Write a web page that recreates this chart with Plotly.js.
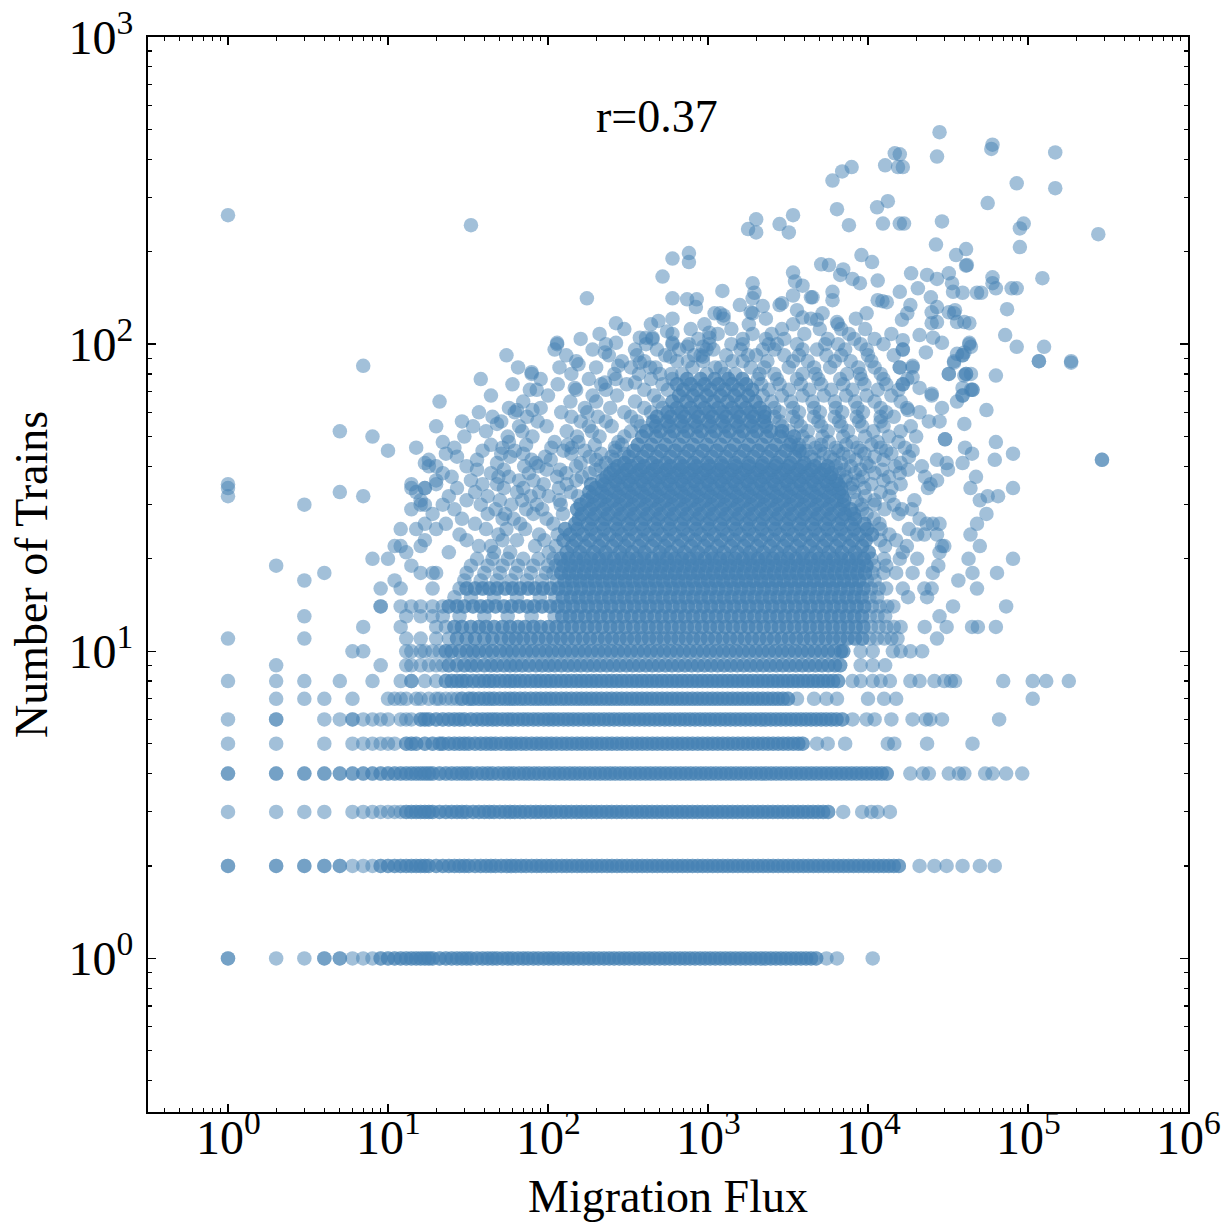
<!DOCTYPE html>
<html><head><meta charset="utf-8">
<script src="https://cdn.plot.ly/plotly-3.0.1.min.js"></script>
<style>html,body{margin:0;padding:0;background:#fff}</style>
</head><body><div id="chart" style="width:1231px;height:1226px"></div>
<script>
// ---- Data ----
// Each row: [Number of Trains, single Migration Flux values, densely stacked Migration Flux values]
// Values in the "dense" list each stand for denseMultiplicity coincident observations.
const denseMultiplicity = 2;
const rows1to8 = [
 [1,[1,1,2,3,4,4,5,5,6,7,8,5500,6400,10700],
  [9,10,11,12,13,14,15,16,17,18,19,21,23,25,27,29,31,33,36,39,42,45,48,52,56,60,65,70,75,81,87,94,101,108,116,125,134,144,155,167,180,193,208,224,241,259,279,300,322,347,373,401,431,464,499,537,577,621,668,718,772,830,893,960,1032,1110,1194,1284,1380,1484,1596,1716,1845,1984,2134,2295,2467,2653,2852,3067,3298,3546,3813,4100,4408,4740]],
 [2,[6,7,8,21000,26000,31000,39000,50000,62000],
  [1,2,3,4,5,9,10,11,12,13,14,15,16,17,18,20,22,24,26,28,30,32,35,38,41,44,47,51,55,59,63,68,73,79,85,91,98,105,113,122,131,141,152,163,175,188,202,217,234,251,270,290,312,336,361,388,417,449,482,519,558,600,645,693,745,801,862,926,996,1071,1151,1238,1331,1431,1538,1654,1778,1911,2055,2209,2375,2553,2745,2951,3172,3410,3666,3941,4237,4555,4896,5264,5659,6083,6540,7030,7558,8125,8734,9390,10094,10851,11665,12541,13481,14493,15580]],
 [3,[1,2,3,4,6,7,8,9,10,11,12,7000,9200,10500,11500,13700],
  [13,14,15,16,17,18,19,21,23,25,27,29,31,34,37,40,43,46,50,54,58,62,67,72,78,84,90,97,104,112,121,130,140,151,162,174,187,201,216,233,250,269,289,311,335,360,387,416,447,481,517,556,598,643,691,743,799,859,923,993,1067,1147,1233,1326,1425,1532,1647,1771,1904,2047,2200,2365,2543,2733,2938,3159,3396,3650,3924,4219,4535,4875,5241,5634]],
 [4,[18400,22000,24000,32000,37000,40000,54000,60000,73000,92000],
  [1,2,3,4,5,6,7,8,9,10,11,12,13,14,15,16,17,18,19,21,23,25,27,29,31,33,36,39,42,45,49,53,57,61,66,71,76,82,88,95,102,110,118,127,137,147,158,170,183,197,212,228,245,263,283,304,327,352,378,407,437,470,505,543,584,628,675,726,780,839,902,969,1042,1120,1204,1295,1392,1496,1608,1729,1858,1998,2148,2309,2482,2668,2868,3083,3315,3563,3830,4118,4426,4758,5115,5499,5911,6355,6831,7344,7894,8486,9123,9807,10543,11333,12183,13097]],
 [5,[1,2,4,6,7,8,9,10,11,4800,5600,7200,13300,14600,23400,45000],
  [13,14,15,17,19,21,22,24,26,28,30,32,35,38,41,44,47,51,55,59,63,68,73,79,85,91,98,105,113,122,131,141,152,163,175,188,202,217,234,251,270,290,312,336,361,388,417,449,482,519,558,600,645,693,745,801,862,926,996,1071,1151,1238,1331,1431,1538,1654,1778,1911,2055,2209,2375,2553,2745,2951,3172,3410,3666,3900]],
 [6,[1,4,5,7,8,9,10,12,13,14,8000,9800,11000,14000,19000,23000,24500,29000,66000],
  [2,6,16,17,18,20,22,24,26,28,30,33,36,39,42,45,48,52,56,60,65,70,75,81,87,94,101,108,116,125,134,144,155,167,180,193,208,224,241,259,279,300,322,347,373,401,431,464,499,537,577,621,668,718,772,830,893,960,1032,1110,1194,1284,1380,1484,1596,1716,1845,1984,2134,2295,2467,2653,2852,3067,3298,3546,3813,4100,4408,4740,5100,5480,5900,6350,6900]],
 [7,[2,3,4,6,10,11,12,13,15,16,18,20,21,23,25,27,3600,4600,5500,6400,10000,12600,15000,107000],
  [29,32,34,37,40,43,46,50,54,58,62,67,72,78,84,90,97,104,112,121,130,140,151,162,174,187,201,216,233,250,269,289,311,335,360,387,416,447,481,517,556,598,643,691,743,799,859,923,993,1067,1147,1233,1326,1425,1532,1647,1771,1904,2047,2200,2365,2543,2733,2938,3160]],
 [8,[1,2,3,5,8,12,17,20,8000,9000,10700,12000,13700,18400,21000,26000,30000,33000,35000,70000,107000,130000,180000],
  [14,23,25,27,29,31,34,37,40,43,46,50,54,58,62,67,72,78,84,90,97,104,112,121,130,140,151,162,174,187,201,216,233,250,269,289,311,335,360,387,416,447,481,517,556,598,643,691,743,799,859,923,993,1067,1147,1233,1326,1425,1532,1647,1771,1904,2047,2200,2365,2543,2733,2938,3159,3396,3650,3924,4219,4535,4875,5241,5634,6057,6500]]
];
const rows9to20 = [
 [9,[2,9,13,14,16,18,20,22,9000,10700,12800],
  [24,27,30,33,36,40,44,48,53,58,63,69,76,84,92,101,110,121,133,146,160,176,193,212,233,256,281,309,339,372,409,449,493,542,595,654,718,789,866,951,1045,1148,1261,1385,1521,1671,1835,2016,2214,2432,2671,2934,3223,3540,3888,4271,4691,5153,5660,6217,6700]],
 [10,[6,7,13,14,16,17,19,21,9000,10700,14300,16000,18400,21800],
  [23,25,28,31,34,37,41,45,50,55,60,66,73,80,88,97,106,117,128,141,155,170,187,206,226,249,273,300,330,363,399,438,482,530,582,640,703,773,850,934,1027,1128,1240,1363,1498,1646,1809,1988,2185,2401,2639,2900,3187,3502,3849,4230,4648,5108,5614,6170,6780,7000]],
 [11,[1,3,13,16,20,24,10250,11390,12660,14000,15300,27000],
  [27,31,35,40,45,51,57,63,70,78,87,97,108,120,133,148,165,183,204,227,252,280,311,346,385,428,476,529,588,654,727,808,898,998,1110,1234,1372,1525,1695,1884,2095,2329,2589,2878,3199,3556,3953,4394,4885,5430,6036,6710,7460,8290,9220]],
 [12,[7,12,20,23,10444,11663,13025,14500,16000,22600,31000,44700,48600,63000],
  [26,29,33,37,41,46,52,58,65,72,81,90,101,113,126,141,157,176,196,219,245,273,305,341,381,425,475,530,592,661,738,824,920,1028,1148,1282,1431,1598,1785,1993,2226,2486,2776,3100,3462,3866,4317,4821,5384,6013,6715,7499,8375,9352]],
 [13,[3,13,16,19,22,28,40,56,79,110,10250,11450,12800,28000],
  [123,137,153,171,191,213,238,266,297,332,371,414,463,517,577,645,720,804,898,1003,1121,1252,1398,1562,1745,1949,2177,2432,2716,3034,3389,3786,4229,4724,5277,5894,6584,7354,8215,9176]],
 [14,[9,9,12,14,16,19,22,10583,11820,13200,14400,34000,73000],
  [24,27,30,34,38,42,47,53,59,66,74,82,92,103,115,128,143,160,178,199,222,248,277,310,346,386,431,481,537,600,670,748,835,933,1042,1163,1299,1451,1620,1809,2020,2256,2519,2813,3142,3508,3918,4375,4886,5456,6093,6805,7599,8486,9477]],
 [15,[26,33,46,64,89,111,10211,11400,17800,23400],
  [124,139,155,173,193,216,241,269,300,335,374,418,466,521,581,649,725,809,903,1008,1126,1257,1403,1567,1749,1953,2181,2435,2719,3036,3390,3785,4226,4719,5269,5883,6569,7335,8190,9145]],
 [16,[9,12,19,28,10465,11680,13000,16500,22500,25000,48000],
  [31,35,39,43,48,54,60,67,75,83,93,104,116,129,144,161,180,200,224,250,279,311,347,387,432,482,538,601,670,748,835,932,1040,1161,1296,1446,1614,1802,2011,2245,2506,2797,3122,3485,3890,4342,4847,5410,6039,6741,7524,8399,9375]],
 [17,[3,11,30,38,48,59,74,92,114,9830,11000,36700],
  [127,142,158,176,196,219,244,272,303,338,377,420,468,522,582,649,723,806,899,1002,1117,1245,1388,1548,1725,1924,2145,2391,2666,2972,3313,3694,4118,4591,5119,5707,6362,7093,7908,8816]],
 [18,[4,16,19,20,31,40,50,63,78,97,108,10670,12500,15000,19000,25400,45000,64000],
  [121,135,150,168,187,209,233,260,290,323,361,402,449,501,558,623,695,775,865,964,1076,1200,1338,1493,1665,1858,2072,2311,2578,2876,3208,3578,3991,4452,4966,5539,6179,6892,7688,8576,9566]],
 [19,[2,14,33,42,52,65,81,100,112,10900,13000,27500],
  [125,139,155,173,193,215,240,267,298,333,371,414,462,515,574,640,714,796,888,990,1104,1231,1373,1531,1707,1904,2123,2367,2640,2944,3283,3661,4083,4553,5077,5662,6314,7041,7852,8756,9765]],
 [20,[8,10,36,45,56,70,87,108,10500,12600,15800,20300,42500,80600],
  [120,134,150,167,186,208,232,258,288,321,358,400,446,497,554,618,689,768,857,955,1065,1188,1325,1477,1647,1837,2048,2284,2547,2840,3167,3532,3938,4392,4898,5461,6090,6791,7573,8445,9418]]
];
const cloud21to40 = [
 [21,[13,24,46,58,101,16500,28000],[131,158,193,229,281,336,402,497,588,713,861,1042,1255,1523,1836,2217,2690,3240,3905,4733,5702,6880,8310,10100]],
 [22,[11,12,16,37,44,83,112,12800,17500,29000,30000,50000],[142,171,208,252,303,369,445,536,651,785,948,1147,1389,1676,2027,2446,2961,3576,4318,5214,6300,7610,9200]],
 [23,[17,31,52,64,95,11900,15000],[125,150,182,220,267,320,389,468,566,686,828,1000,1212,1460,1770,2138,2580,3121,3770,4553,5503,6650,8030,9700]],
 [24,[28,49,88,115,13600,20300,22500,27000,43700],[137,165,199,241,290,352,424,513,619,748,904,1093,1320,1594,1927,2329,2812,3399,4106,4960,5990,7240,8750,10600]],
 [25,[12,15,20,41,55,72,12000,18000],[128,153,186,224,272,328,396,479,579,700,845,1021,1234,1491,1802,2176,2630,3177,3839,4638,5605,6770,8180,9880]],
 [26,[17,23,35,67,108,11800,23300,25400,28000,48000],[148,178,216,262,316,381,461,557,673,813,982,1186,1433,1732,2093,2528,3054,3690,4458,5386,6508,7862,9500]],
 [27,[29,52,61,98,10900,21000],[156,189,228,276,333,402,486,587,709,857,1035,1250,1511,1825,2205,2665,3220,3890,4700,5680,6860,8290]],
 [28,[19,42,54,81,124,9800,15500,55000],[163,197,238,288,347,420,507,613,740,895,1081,1306,1578,1906,2303,2783,3362,4062,4908,5930,7163,8140]],
 [29,[14,26,47,73,92,9200,12700,16300,18800],[152,183,222,268,323,391,472,570,689,832,1006,1215,1468,1773,2143,2589,3128,3779,4566,5517,6665,7800]],
 [30,[3,16,17,22,38,59,85,120,9100,11000,14500],[160,193,233,282,340,411,497,600,725,876,1058,1278,1544,1866,2254,2723,3290,3975,4803,5803,7010]],
 [31,[16,31,50,69,118,8500,11000,19500,50000],[175,211,255,308,372,450,543,656,793,958,1157,1398,1689,2041,2466,2979,3600,4349,5255,6349,7100]],
 [32,[1,7,24,42,78,101,154,9600,13600,56000,65000],[190,229,277,335,404,489,590,713,862,1041,1258,1520,1836,2219,2681,3239,3914,4729,5713,6900]],
 [33,[5,15,35,64,88,139,8200,12000],[181,218,264,319,385,465,562,679,820,991,1197,1446,1748,2112,2551,3083,3725,4500,5437,6570]],
 [34,[1,14,17,17,27,53,70,117,7800,9500,14000,23700,43700,80600],[198,239,289,349,422,510,616,744,899,1086,1312,1585,1916,2314,2796,3378,4082,4932,5959,6800]],
 [35,[1,14,20,39,48,94,131,8000,10500,16000,24600],[186,225,272,328,397,479,579,700,846,1022,1235,1492,1803,2178,2632,3180,3842,4642,5609,6500]],
 [36,[20,33,66,81,150,7200,8700,12500,27000],[218,263,318,384,464,561,678,819,989,1195,1444,1745,2108,2547,3077,3718,4493,5428,6300]],
 [37,[25,49,57,114,163,7300,9300,13500,22700,47300],[232,280,339,409,495,598,722,873,1054,1274,1539,1860,2247,2715,3280,3963,4788,5786]],
 [38,[22,44,76,130,182,6600,8300,11000,15800],[245,296,358,432,522,631,762,921,1113,1345,1625,1963,2372,2866,3463,4184,5055,5900]],
 [39,[36,53,98,119,198,7100,9000,12300,17800,31600],[258,312,377,455,550,665,803,970,1172,1416,1711,2068,2498,3018,3647,4406,5324]],
 [40,[18,20,31,71,87,150,214,6300,7800,10200,14800,21700],[272,329,397,480,580,701,847,1023,1236,1494,1805,2181,2635,3184,3847,4648,5600]]
];
const cloud41to121 = [
 [41,[17,48,84,160,230,5000,6800,9800,16000,31000,39000],[300,366,447,545,665,811,990,1208,1473,1797,2193,2675,3264,4000]],
 [42,[18,36,79,104,200,260,4600,6100,8400,12500,27000,62000,290000],[]],
 [43,[27,58,96,182,250,4400,5800,7600,11000,18000],[320,391,477,582,710,866,1057,1290,1574,1920,2342,2858,3487]],
 [44,[23,51,70,140,215,300,3900,5300,7000,9500,14000,44700,80600],[]],
 [45,[10,39,62,125,170,264,4100,5000,6500,9000,13000,19000],[343,418,510,622,759,926,1130,1378,1681,2051,2502,3053,3724]],
 [46,[15,26,52,105,141,262,3600,4700,6300,8600,12000,17000,40400],[]],
 [47,[44,73,133,196,290,3700,5100,7300,10500],[364,444,542,661,806,984,1200,1464,1786,2179,2659,3244]],
 [48,[22,57,110,155,275,3300,4300,5700,8000,11500,15500,63000],[]],
 [49,[30300,30300],[]],
 [50,[8,30,56,80,152,210,300,3900,5200,7000,9600,13500,20000],[388,473,577,704,859,1048,1279,1560,1903,2322,2833,3456]],
 [52,[5,41,69,131,188,330,3200,4200,5600,7500,10800,16000],[412,503,614,749,914,1115,1360,1659,2024,2469,2900]],
 [54,[20,34,66,98,180,250,380,2900,3800,5100,6800,9200,12500,18500],[470,573,699,853,1041,1270,1549,1890,2306]],
 [55,[48,40000],[]],
 [56,[29,51,86,160,230,360,2800,3600,4900,6600,8800,12000,24000,28000],[455,555,677,826,1008,1230,1500,1830,2233]],
 [58,[45,74,140,205,330,2600,3400,4600,6200,8500,12000,14500],[480,586,715,872,1064,1298,1584,1932,2250]],
 [60,[37,62,121,176,300,440,2800,3700,5000,6900,9300,13000,21000],[560,683,833,1016,1240,1513,1846,2252]],
 [61,[64,80,17800,55000],[]],
 [62,[57,90,170,245,400,520,2600,3400,4600,6300,8600,12000,17500,29000],[640,780,950,1160,1415,1726,2106]],
 [65,[21,70,138,200,350,490,2500,3300,4500,6200,8300,11000,16000,36000],[600,732,893,1089,1329,1621,1978]],
 [68,[44,100,190,270,460,2200,2900,3900,5300,7300,9800,14000,25000,39000],[660,805,982,1198,1462,1783]],
 [71,[85,150,230,400,560,2400,3200,4300,5900,8000,11500,15500,44000,45000],[700,854,1042,1271,1551,1892]],
 [74,[60,115,215,310,520,2150,2800,3800,5100,7000,9500,13000,16500],[640,780,952,1161,1416,1728]],
 [77,[38,90,180,265,440,600,2050,2700,3600,4900,6700,9100,12500,17600],[740,900,1100,1340,1640]],
 [80,[79,140,260,370,590,690,980,1270,1480,2100,2600,3900,4700,7400,8900,12000,32000,41000,44000],[]],
 [84,[65,118,200,330,470,800,1110,1200,1850,2250,3200,4600,5800,8700,11000,15800,19000],[]],
 [85,[7],[]],
 [88,[150,290,400,640,750,930,1420,1650,2350,3400,4200,6200,7800,10500,34500,117000,186000],[]],
 [92,[55,130,240,360,540,820,900,1300,1780,2000,3000,3700,5500,6800,10000,14500,39000],[]],
 [96,[110,190,350,480,660,980,1080,1600,2200,2600,3900,4800,7200,9800,16500],[]],
 [100,[114,230,410,600,760,1020,1400,1650,2400,2700,3600,5400,6500,9000,12500,43000],[]],
 [104,[160,450,870,1650,2300,3000,5600,8200,11000],[]],
 [108,[210,600,1150,1900,2500,4000,7600,14000],[]],
 [112,[300,780,1400,2900,5000,6800,9600],[]],
 [116,[440,950,1800,3400,6500],[]],
 [121,[600,1250,2300,4400,8400],[]]
];
// Sparse high points: [Migration Flux, Number of Trains]
const sparseHigh = [
 [1,263],[33,244],[28000,490],[60000,446],[59000,432],[148000,421],[27000,408],[16500,377],[15800,415],[85000,334],
 [148000,322],[56000,288],[16800,247],[29000,251],[94000,247],[89000,238],[89000,207],[275000,228],[26600,211],[35500,195],
 [41000,204],[41000,180],[41500,181],[18600,170],[23400,168],[27000,163],[32000,170],[33500,158],[34000,148],[39000,147],
 [51000,147],[60000,165],[60000,158],[63000,152],[79000,152],[85000,152],[123000,164],[20500,152],[15800,148],[24700,142],
 [18400,134],[17600,126],[16300,120],[27000,132],[25000,127],[25000,117],[32000,127],[35000,129],[36000,118],[43000,117],
 [74000,130],[72000,107],[21000,107],[25500,105],[29000,101],[85000,98],[126000,98],[117000,88],[186000,87],[44000,98],
 [36000,93],[34500,87],[63000,79],[32000,80],[41000,80],[19000,85],[19000,78],[23000,94],[21000,72],[25000,69],
 [39000,72],[39000,68],[16500,103],[16500,96],[15800,84],[16500,74],[290000,42],
 [14700,418],[12800,382],[15400,377],[7900,377],[6900,365],[6000,341],[6400,275],[11400,279],[13300,292],[12400,247],
 [15800,247],[7600,244],[2800,246],[3200,231],[3400,263],[1780,237],[2000,255],[2000,231],[760,198],[760,185],
 [600,190],[520,166],[5100,182],[5700,181],[9100,195],[10600,185],[7000,175],[8000,163],[8900,158],[3400,171],
 [3500,160],[3900,155],[11500,161],[11500,139],[1900,158],[1950,147],[2200,133],[1900,141],[1230,149],[600,141],
 [740,140],[850,140],[840,132],[1580,134],[1190,126],[1100,126],[1900,126],[2800,134],[2900,136],[3400,144],
 [4500,142],[6000,148],[6000,139],[6700,168],[9800,126],[13100,137],[12300,138],[175,141],[266,117],[266,101],
 [490,119],[555,110],[450,105],[410,105],[375,105],[114,101],[79,81],[77,71],[155,86],[147,72],
 [227,94],[227,75],[275,85],[350,75],[375,87],[435,84],[500,80],[580,91],[600,101],[740,98],
 [1020,109],[1020,105],[930,98],[930,91],[48000,147],[27000,118],[34500,126],[40000,118],[40000,94],[43000,101],
 [39000,92],[40000,79],[45000,71],[1850,127],[1250,124],[3600,129],[3900,122],[4400,142],[4800,120],[5200,126],[6400,118]
];
const xTickVals = [1,10,100,1000,10000,100000,1000000];
const xTickText = ['10<sup>0</sup>','10<sup>1</sup>','10<sup>2</sup>','10<sup>3</sup>','10<sup>4</sup>','10<sup>5</sup>','10<sup>6</sup>'];
const yTickVals = [1,10,100,1000];
const yTickText = ['10<sup>0</sup>','10<sup>1</sup>','10<sup>2</sup>','10<sup>3</sup>'];

// ---- Build arrays ----
const xs = [], ys = [];
[rows1to8, rows9to20, cloud21to40, cloud41to121].forEach(g => g.forEach(([t, single, dense]) => {
  single.forEach(f => { xs.push(f); ys.push(t); });
  for (let k = 0; k < denseMultiplicity; k++) dense.forEach(f => { xs.push(f); ys.push(t); });
}));
sparseHigh.forEach(([f, t]) => { xs.push(f); ys.push(t); });

function minorVals(lo, hi) {
  const v = [];
  for (let e = lo; e <= hi; e++) for (let m = 2; m <= 9; m++) v.push(m * Math.pow(10, e));
  return v;
}
const FONT = 'Liberation Serif, Times New Roman, serif';
const axisCommon = {
  type: 'log', showgrid: false, zeroline: false, showline: true, linecolor: '#000', linewidth: 2,
  mirror: 'allticks', ticks: 'inside', ticklen: 8, tickwidth: 1.5, tickcolor: '#000',
  tickmode: 'array', tickfont: { family: FONT, size: 48, color: '#000' }
};
// x tick labels drawn as annotations anchored to the x axis scale
const xLabelAnnotations = xTickVals.map((v, i) => ({
  xref: 'x', yref: 'paper', x: Math.log10(v), y: 0, xanchor: 'center', yanchor: 'top', yshift: 10,
  text: xTickText[i], showarrow: false, font: { family: FONT, size: 48, color: '#000' }
}));
const layout = {
  width: 1231, height: 1226,
  margin: { l: 148, r: 43, t: 37, b: 114 },
  paper_bgcolor: '#fff', plot_bgcolor: '#fff',
  showlegend: false,
  font: { family: FONT, color: '#000' },
  xaxis: Object.assign({}, axisCommon, {
    range: [-0.5, 6], tickvals: xTickVals, ticktext: xTickText, showticklabels: false,
    minor: { tickmode: 'array', tickvals: minorVals(-1, 5), ticks: 'inside', ticklen: 4, tickwidth: 1.2, tickcolor: '#000' },
    title: { text: 'Migration Flux', font: { family: FONT, size: 46, color: '#000' }, standoff: 67 }
  }),
  yaxis: Object.assign({}, axisCommon, {
    range: [-0.5, 3], tickvals: yTickVals, ticktext: yTickText, ticklabelstandoff: 3,
    minor: { tickmode: 'array', tickvals: minorVals(-1, 2), ticks: 'inside', ticklen: 4, tickwidth: 1.2, tickcolor: '#000' },
    title: { text: 'Number of Trains', font: { family: FONT, size: 46, color: '#000' }, standoff: 7 }
  }),
  annotations: [{
    xref: 'paper', yref: 'paper', x: 0.489, y: 0.926, xanchor: 'center', yanchor: 'middle',
    text: 'r=0.37', showarrow: false, font: { family: FONT, size: 46, color: '#000' }
  }].concat(xLabelAnnotations)
};
Plotly.newPlot('chart', [{
  type: 'scatter', mode: 'markers', x: xs, y: ys, hoverinfo: 'skip',
  marker: { color: '#4682b4', opacity: 0.5, size: 14.5, line: { width: 0 } }
}], layout, { staticPlot: true, displayModeBar: false });
</script>
</body></html>
